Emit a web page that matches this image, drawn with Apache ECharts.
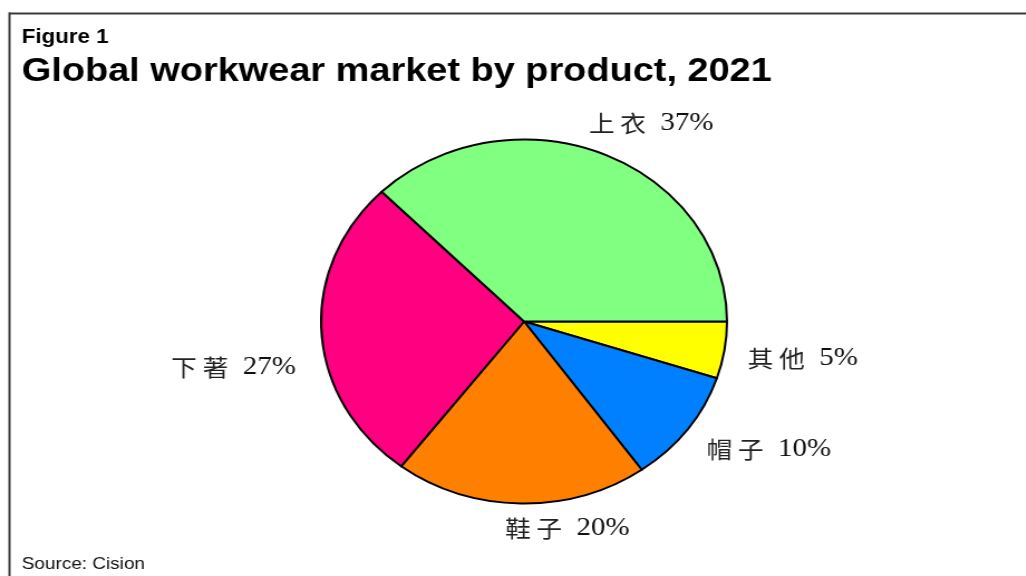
<!DOCTYPE html>
<html>
<head>
<meta charset="utf-8">
<script src="https://cdn.jsdelivr.net/npm/echarts@6/dist/echarts.min.js"></script>
<style>
  html, body { margin: 0; padding: 0; background: #fff; overflow: hidden; }
  #wrap { width: 1026px; height: 576px; overflow: hidden; position: relative; }
  #chart { width: 920px; height: 576px; transform: scaleX(1.115); transform-origin: 0 0; }
</style>
</head>
<body>
<div id="wrap"><div id="chart"></div></div>
<script>
// ---- data ----
const categories = ['其他', '帽子', '鞋子', '下著', '上衣'];
const shares = [5, 10, 20, 27, 37];
const colors = ['#FFFF00', '#0080FF', '#FF8000', '#FF0080', '#80FF80'];
const figureLabel = 'Figure 1';
const titleText = 'Global workwear market by product, 2021';
const sourceText = 'Source: Cision';

// label nudges (layout only)
const labelNudge = {
  '其他': { dx: 1, dy: 6 },
  '帽子': { dx: 0, dy: 11 },
  '鞋子': { dx: 47, dy: 10, align: 'center' },
  '下著': { dx: -3, dy: 33 },
  '上衣': { dx: 33, dy: -17, align: 'center' }
};

const chart = echarts.init(document.getElementById('chart'), null, { renderer: 'canvas' });

const option = {
  animation: false,
  backgroundColor: '#ffffff',
  graphic: [
    { type: 'line', silent: true, shape: { x1: 8, y1: 13.5, x2: 920, y2: 13.5 }, style: { stroke: '#3a3a3a', lineWidth: 2.2 } },
    { type: 'line', silent: true, shape: { x1: 8.5, y1: 12.5, x2: 8.5, y2: 576 }, style: { stroke: '#3a3a3a', lineWidth: 2 } },
    { type: 'text', silent: true, left: 19.5, top: 27, style: { text: figureLabel, font: 'bold 20px "Liberation Sans", Arial, sans-serif', fill: '#000' } },
    { type: 'text', silent: true, left: 19.5, top: 55, style: { text: titleText, font: 'bold 34px "Liberation Sans", Arial, sans-serif', fill: '#000' } },
    { type: 'text', silent: true, left: 19.5, top: 556, style: { text: sourceText, font: '17px "Liberation Sans", Arial, sans-serif', fill: '#111' } }
  ],
  series: [{
    type: 'pie',
    center: [470, 321.5],
    radius: [0, 182],
    startAngle: 0,
    clockwise: true,
    avoidLabelOverlap: false,
    silent: true,
    itemStyle: { borderColor: '#000', borderWidth: 2 },
    label: {
      show: true,
      position: 'outside',
      formatter: function (p) {
        return '{cn|' + p.name.split('').join(' ') + '}{num|  ' + p.value + '%}';
      },
      rich: {
        cn: { fontFamily: '"Noto Sans CJK TC", "Noto Sans CJK SC", sans-serif', fontSize: 23, color: '#222' },
        num: { fontFamily: '"Liberation Serif", "Times New Roman", serif', fontSize: 26, color: '#111' }
      }
    },
    labelLine: { show: false, length: 15, length2: 0 },
    labelLayout: function (params) {
      const n = labelNudge[categories[params.dataIndex]] || {};
      const o = { dx: n.dx || 0, dy: n.dy || 0 };
      if (n.align) o.align = n.align;
      return o;
    },
    emphasis: { disabled: true },
    data: categories.map(function (c, i) {
      return { name: c, value: shares[i], itemStyle: { color: colors[i] } };
    })
  }]
};

chart.setOption(option);
</script>
</body>
</html>
